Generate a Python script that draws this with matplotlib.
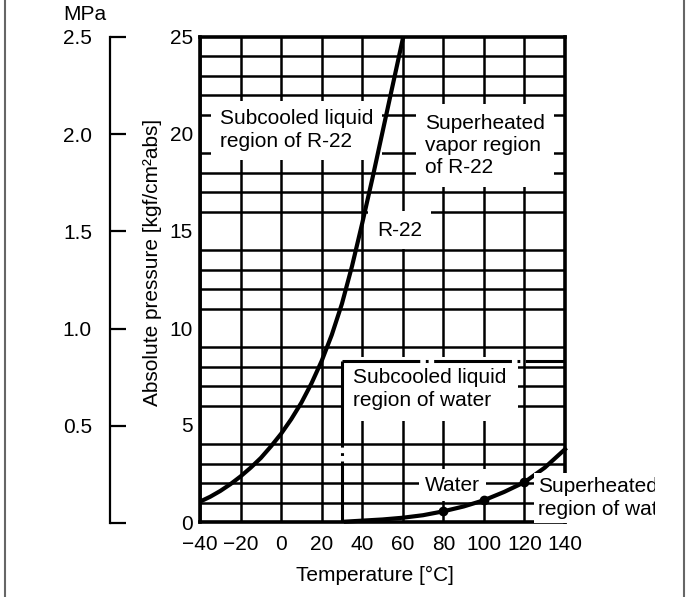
import matplotlib
matplotlib.use('Agg')
import matplotlib.pyplot as plt
from matplotlib.transforms import Bbox, TransformedBbox
from matplotlib.lines import Line2D

plt.rcParams['font.family'] = ['Liberation Sans', 'DejaVu Sans']
plt.rcParams['lines.scale_dashes'] = False

# ---- data ----
r22_temp = [-40, -35, -30, -25, -20, -15, -10, -5, 0, 5, 10, 15, 20, 25, 30,
            35, 40, 45, 50, 55, 60, 60.3]
r22_pres = [1.05, 1.3, 1.6, 1.95, 2.35, 2.8, 3.3, 3.9, 4.55, 5.3, 6.15,
            7.15, 8.3, 9.65, 11.25, 13.2, 15.4, 17.7, 20.1, 22.5, 24.9, 25.0]
water_temp = [32, 40, 50, 60, 70, 80, 90, 100, 110, 120, 130, 140]
water_pres = [0.02, 0.07, 0.13, 0.22, 0.35, 0.55, 0.8, 1.12, 1.55, 2.05, 2.8, 3.75]
water_dot_temp = [80, 100, 120]
water_dot_pres = [0.55, 1.12, 2.05]
# boundary of the subcooled-water region (corner, then the two edges)
boundary_corner = (30, 8.3)
boundary_bottom = 0
boundary_right = 140

x_ticks = [-40, -20, 0, 20, 40, 60, 80, 100, 120, 140]
x_tick_labels = ['\u221240', '\u221220', '0', '20', '40', '60', '80', '100', '120', '140']
y_ticks = [0, 5, 10, 15, 20, 25]
y_minor = list(range(0, 26))
mpa_ticks = [0, 0.5, 1.0, 1.5, 2.0, 2.5]
mpa_tick_labels = ['', '0.5', '1.0', '1.5', '2.0', '2.5']

FS = 15
LS = 1.22
W, H = 691, 597
fig = plt.figure(figsize=(W / 100, H / 100), dpi=100)

def px(x0, y0, x1, y1):
    return [x0 / W, 1 - y1 / H, (x1 - x0) / W, (y1 - y0) / H]

ax = fig.add_axes(px(200, 37, 565, 522))
ax.set_xlim(-40, 140)
ax.set_ylim(0, 25)
ax.set_xticks(x_ticks)
ax.set_xticklabels(x_tick_labels)
ax.set_yticks(y_ticks)
ax.set_yticks(y_minor, minor=True)
ax.tick_params(which='both', length=0)
ax.tick_params(axis='x', pad=9, labelsize=FS)
ax.tick_params(axis='y', pad=5, labelsize=FS)
ax.grid(True, which='major', axis='x', color='black', lw=1.8)
ax.grid(True, which='minor', axis='y', color='black', lw=1.8)
for s in ax.spines.values():
    s.set_linewidth(2.6)

# curves
ax.plot(r22_temp, r22_pres, color='black', lw=3.0, zorder=5, solid_capstyle='butt')
ax.plot(water_temp, water_pres, color='black', lw=3.0, zorder=5, clip_on=False)
ax.plot(water_dot_temp, water_dot_pres, 'o', color='black', ms=6, zorder=6)
cx, cy = boundary_corner
ax.plot([cx, cx], [cy, boundary_bottom], color='black', lw=2.2, zorder=4,
        dashes=[62, 4, 2, 4])
ax.plot([cx, boundary_right], [cy, cy], color='black', lw=2.2, zorder=4,
        dashes=[56, 4, 2, 4])

def label(x, y, s, pad, **kw):
    return ax.text(x, y, s, fontsize=FS, ha='left', va='center', linespacing=LS,
                   bbox=dict(boxstyle='square,pad=%g' % pad, fc='white', ec='none'),
                   zorder=3, **kw)

label(-30.1, 20.2, 'Subcooled liquid\nregion of R-22', 0.42)
label(71.0, 19.4, 'Superheated\nvapor region\nof R-22', 0.45)
label(47.3, 15.05, 'R-22', 0.45)
label(35.4, 6.86, 'Subcooled liquid\nregion of water', 0.55)
label(71.0, 1.9, 'Water', 0.3)
t = fig.text(126.7, 1.24, 'Superheated\nregion of water', transform=ax.transData,
             fontsize=FS, ha='left', va='center', linespacing=LS,
             bbox=dict(boxstyle='square,pad=0.2', fc='white', ec='none'), zorder=3)
t.set_clip_box(TransformedBbox(Bbox.from_extents(0, 0, 655 / W, 1), fig.transFigure))
t.set_clip_on(True)

# MPa scale
ax2 = fig.add_axes(px(110, 37, 111, 523))
ax2.set_ylim(0, 2.5)
ax2.set_yticks(mpa_ticks)
ax2.set_yticklabels(mpa_tick_labels)
ax2.set_xticks([])
for k in ['top', 'right', 'bottom']:
    ax2.spines[k].set_visible(False)
ax2.spines['left'].set_linewidth(1.6)
ax2.patch.set_visible(False)
ax2.tick_params(axis='y', direction='in', length=11.5, width=1.6, pad=13, labelsize=FS)

fig.text(63 / W, 1 - 20 / H, 'MPa', fontsize=FS, ha='left', va='baseline')
fig.text(153 / W, 1 - 262 / H, 'Absolute pressure [kgf/cm\u00b2abs]', fontsize=FS,
         rotation=90, ha='center', va='center')
fig.text(375 / W, 1 - 575 / H, 'Temperature [\u00b0C]', fontsize=FS,
         ha='center', va='center')

# outer frame lines
for xx in (4.5 / W, 683.5 / W):
    fig.add_artist(Line2D([xx, xx], [0, 1], transform=fig.transFigure,
                          color='#666666', lw=1.5))

fig.savefig('out.png', dpi=100)
